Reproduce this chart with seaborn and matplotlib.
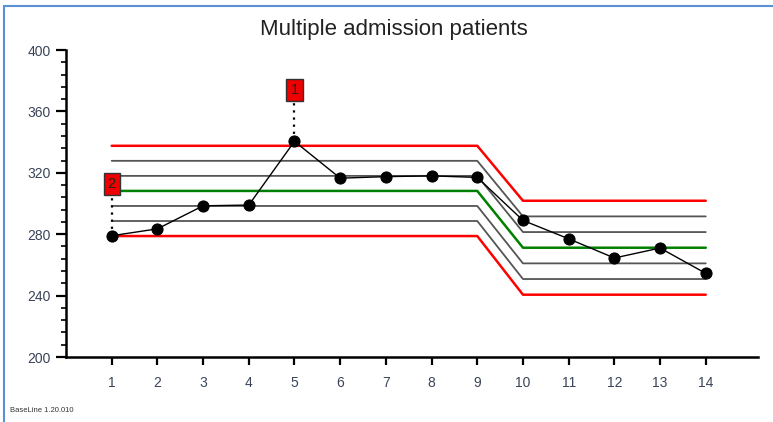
import matplotlib
matplotlib.use("Agg")
import matplotlib.pyplot as plt
from matplotlib.lines import Line2D
from matplotlib.ticker import MultipleLocator
import numpy as np
import pandas as pd
import seaborn as sns

# Monthly values
months = [1, 2, 3, 4, 5, 6, 7, 8, 9, 10, 11, 12, 13, 14]
patients = [279, 283.5, 298.5, 299, 340.5, 316.5, 317.5, 318, 317, 289, 277, 264.5, 271, 254.5]

# Control limits per phase: (first month, last month, mean, sigma)
phase_start = [1, 10]
phase_end = [9, 14]
phase_mean = [308.2, 271.2]
phase_sigma = [9.8, 10.2]

# Flagged points: month, flag label, label height
flag_month = [1, 5]
flag_text = ["2", "1"]
flag_y = [312.5, 374]

x_ticks = list(range(1, 15))
y_ticks = [200, 240, 280, 320, 360, 400]

sns.set_theme(style="white")
plt.rcParams["font.family"] = ["Liberation Sans", "DejaVu Sans"]

fig = plt.figure(figsize=(7.73, 4.22), dpi=100)
ax = fig.add_axes([0.0854, 0.154, 0.895, 0.7275])

# Build the limit lines: flat within each phase, sloping across the change
limit_rows = []
for k, color in [(3, "red"), (2, "#555555"), (1, "#555555"), (0, "green"),
                 (-1, "#555555"), (-2, "#555555"), (-3, "red")]:
    xs = [phase_start[0], phase_end[0], phase_start[1], phase_end[1]]
    ys = [phase_mean[0] + k * phase_sigma[0], phase_mean[0] + k * phase_sigma[0],
          phase_mean[1] + k * phase_sigma[1], phase_mean[1] + k * phase_sigma[1]]
    for xv, yv in zip(xs, ys):
        limit_rows.append({"month": xv, "value": yv, "level": k, "color": color})
limits = pd.DataFrame(limit_rows)

for k in [3, 2, 1, 0, -1, -2, -3]:
    sub = limits[limits["level"] == k]
    col = sub["color"].iloc[0]
    lw = 1.8 if col in ("red", "green") else 1.3
    sns.lineplot(data=sub, x="month", y="value", color=col, linewidth=lw,
                 ax=ax, sort=False, estimator=None, zorder=2)

data = pd.DataFrame({"month": months, "patients": patients})
sns.lineplot(data=data, x="month", y="patients", color="black", linewidth=1.0,
             marker="o", markersize=8, markeredgecolor="black", ax=ax,
             estimator=None, zorder=4)

# Flag labels with dotted leaders down to their points
for m, t, fy in zip(flag_month, flag_text, flag_y):
    py = patients[months.index(m)]
    ax.plot([m, m], [py, fy - 6], linestyle=(0, (1, 2.2)), color="black",
            linewidth=1.6, zorder=3)
    ax.text(m, fy, t, ha="center", va="center", fontsize=10.5, color="#222222",
            bbox=dict(boxstyle="square,pad=0.28", facecolor="#ee0000",
                      edgecolor="#333333", linewidth=1.0), zorder=5)

ax.set_xlim(0, 15.14)
ax.set_ylim(200, 400)
ax.set_xticks(x_ticks)
ax.set_yticks(y_ticks)
ax.yaxis.set_minor_locator(MultipleLocator(8))
ax.set_xlabel("")
ax.set_ylabel("")

for side in ["top", "right"]:
    ax.spines[side].set_visible(False)
for side in ["left", "bottom"]:
    ax.spines[side].set_color("black")
    ax.spines[side].set_linewidth(1.8)

label_color = "#3a4458"
ax.tick_params(axis="y", which="major", direction="out", length=7, width=1.6,
               color="black", labelsize=10, labelcolor=label_color, left=True, pad=4)
ax.tick_params(axis="y", which="minor", direction="out", length=3.5, width=1.2,
               color="black", left=True)
ax.tick_params(axis="x", which="major", direction="out", length=6, width=1.6,
               color="black", labelsize=10, labelcolor=label_color, bottom=True, pad=8)
ax.grid(False)

fig.text(0.51, 0.929, "Multiple admission patients", ha="center", va="center",
         fontsize=16, color="#222222")
fig.text(0.013, 0.028, "BaseLine 1.20.010", ha="left", va="center",
         fontsize=5.5, color="#333333")

# Window frame along the top and left edges
frame_color = "#5b8fd6"
fig.add_artist(Line2D([0.0055, 1.0], [1 - 6 / 422, 1 - 6 / 422], color=frame_color,
                      linewidth=1.5, transform=fig.transFigure))
fig.add_artist(Line2D([0.0055, 0.0055], [0.0, 1 - 6 / 422], color=frame_color,
                      linewidth=1.5, transform=fig.transFigure))

fig.savefig("out.png", dpi=100)
